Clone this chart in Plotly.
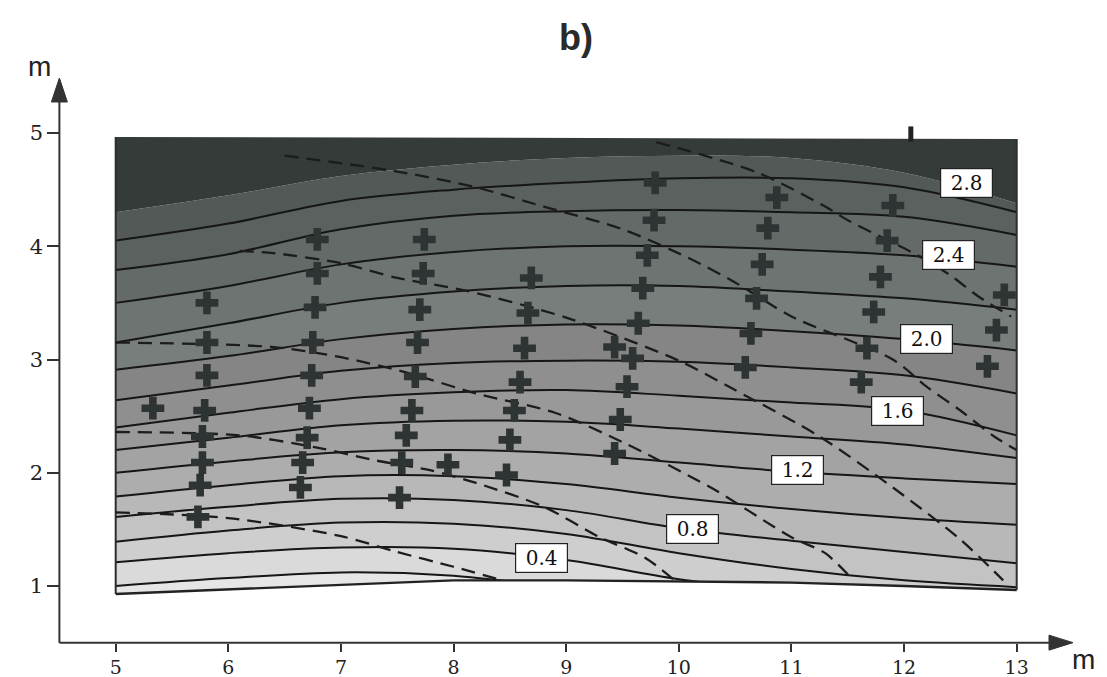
import plotly.graph_objects as go

# ---------------- data ----------------
x_stations = [5, 6, 7, 8, 9, 10, 11, 12, 13]
bottom_y = [0.93, 0.97, 1.01, 1.05, 1.05, 1.04, 1.03, 1.00, 0.965]
top_y = [4.965, 4.963, 4.96, 4.958, 4.955, 4.953, 4.95, 4.948, 4.947]

levels = [0.2, 0.4, 0.6, 0.8, 1.0, 1.2, 1.4, 1.6, 1.8, 2.0, 2.2, 2.4, 2.6, 2.8, 3.0]
# y position of each contour level at the x stations
level_y = [
    [1.00, 1.07, 1.12, 1.09, 0.98, 0.90, 0.85, 0.80, 0.75],   # 0.2
    [1.21, 1.29, 1.34, 1.33, 1.23, 1.06, 0.95, 0.85, 0.78],   # 0.4
    [1.39, 1.49, 1.56, 1.55, 1.46, 1.29, 1.15, 1.05, 0.99],   # 0.6
    [1.61, 1.70, 1.77, 1.76, 1.67, 1.51, 1.40, 1.30, 1.20],   # 0.8
    [1.79, 1.89, 1.97, 1.97, 1.90, 1.78, 1.68, 1.60, 1.54],   # 1.0
    [2.00, 2.10, 2.18, 2.20, 2.17, 2.09, 2.01, 1.95, 1.90],   # 1.2
    [2.20, 2.31, 2.42, 2.46, 2.45, 2.39, 2.32, 2.25, 2.13],   # 1.4
    [2.40, 2.53, 2.65, 2.71, 2.73, 2.68, 2.62, 2.55, 2.33],   # 1.6
    [2.64, 2.77, 2.90, 2.97, 2.99, 2.98, 2.93, 2.86, 2.70],   # 1.8
    [2.91, 3.03, 3.18, 3.27, 3.31, 3.30, 3.25, 3.18, 3.08],   # 2.0
    [3.15, 3.32, 3.50, 3.60, 3.65, 3.65, 3.60, 3.54, 3.44],   # 2.2
    [3.50, 3.65, 3.84, 3.95, 4.00, 4.00, 3.97, 3.92, 3.82],   # 2.4
    [3.79, 3.93, 4.15, 4.27, 4.31, 4.32, 4.30, 4.26, 4.10],   # 2.6
    [4.05, 4.20, 4.40, 4.50, 4.56, 4.60, 4.60, 4.52, 4.30],   # 2.8
    [4.30, 4.45, 4.62, 4.72, 4.78, 4.80, 4.78, 4.65, 4.38],   # 3.0
]

label_text = ["0.4", "0.8", "1.2", "1.6", "2.0", "2.4", "2.8"]
label_x = [8.78, 10.12, 11.05, 11.94, 12.20, 12.39, 12.55]
label_y = [1.25, 1.50, 2.02, 2.545, 3.185, 3.92, 4.56]

cross_x = [5.81, 5.81, 5.81, 5.79, 5.77, 5.77, 5.75, 5.73, 5.33,
           6.79, 6.79, 6.77, 6.75, 6.74, 6.72, 6.70, 6.66, 6.64,
           7.74, 7.73, 7.70, 7.68, 7.66, 7.63, 7.58, 7.54, 7.95, 7.52,
           8.69, 8.66, 8.63, 8.59, 8.54, 8.50, 8.47,
           9.79, 9.78, 9.72, 9.68, 9.64, 9.43, 9.59, 9.54, 9.48, 9.43,
           10.87, 10.79, 10.74, 10.69, 10.64, 10.59,
           11.90, 11.85, 11.79, 11.73, 11.67, 11.62,
           12.89, 12.82, 12.74]
cross_y = [3.50, 3.15, 2.86, 2.55, 2.32, 2.09, 1.89, 1.61, 2.57,
           4.06, 3.76, 3.46, 3.15, 2.86, 2.57, 2.31, 2.09, 1.87,
           4.06, 3.76, 3.44, 3.15, 2.85, 2.55, 2.33, 2.09, 2.07, 1.78,
           3.72, 3.41, 3.10, 2.80, 2.55, 2.29, 1.98,
           4.56, 4.23, 3.92, 3.63, 3.32, 3.11, 3.01, 2.76, 2.47, 2.17,
           4.43, 4.16, 3.84, 3.54, 3.23, 2.93,
           4.36, 4.05, 3.73, 3.42, 3.10, 2.80,
           3.57, 3.26, 2.94]

# small mark sticking out of the top edge
top_mark_x = [12.06]
top_mark_y = [4.99]

dash1_x = [5.0, 6.0, 7.0, 7.5, 8.0, 8.4]
dash1_y = [1.65, 1.60, 1.44, 1.30, 1.17, 1.06]
dash2_x = [5.0, 6.1, 6.8, 7.3, 7.8, 8.2, 8.8, 9.3, 9.7, 9.95]
dash2_y = [2.36, 2.33, 2.22, 2.11, 2.02, 1.91, 1.70, 1.43, 1.25, 1.06]
dash3_x = [5.0, 6.4, 7.0, 7.6, 8.2, 8.9, 9.5, 10.3, 11.0, 11.3, 11.55]
dash3_y = [3.15, 3.11, 3.02, 2.88, 2.70, 2.53, 2.27, 1.86, 1.43, 1.29, 1.05]
dash4_x = [6.1, 6.4, 7.0, 7.5, 8.1, 9.0, 10.0, 10.5, 11.25, 11.9, 12.5, 12.88]
dash4_y = [3.96, 3.94, 3.85, 3.72, 3.61, 3.37, 2.99, 2.73, 2.32, 1.87, 1.41, 1.05]
dash5_x = [6.5, 7.5, 8.2, 8.8, 9.5, 10.1, 10.5, 11.0, 11.9, 12.2, 12.5, 12.8, 13.0]
dash5_y = [4.80, 4.66, 4.52, 4.35, 4.15, 3.89, 3.68, 3.38, 3.00, 2.76, 2.55, 2.32, 2.20]
dash6_x = [9.8, 10.7, 11.3, 11.5, 12.1, 12.4, 12.67, 12.95]
dash6_y = [4.92, 4.65, 4.35, 4.23, 3.93, 3.75, 3.55, 3.38]

x_ticks = [5, 6, 7, 8, 9, 10, 11, 12, 13]
y_ticks = [1, 2, 3, 4, 5]

# ---------------- styling / geometry ----------------
W, H = 1107, 677
OFF = 8          # page offset of the plot div (body margin)
PX_X = 112.625   # px per x unit
PX_Y = 113.25    # px per y unit
X5_PX = 115.7    # page px of x = 5
Y1_PX = 586.0    # page px of y = 1
x0 = 5 - (X5_PX - OFF) / PX_X
x1 = x0 + W / PX_X
y0 = 1 - (H + OFF - Y1_PX) / PX_Y
y1 = y0 + H / PX_Y


def dx(px):
    return 5 + (px - X5_PX) / PX_X


def dy(py):
    return 1 + (Y1_PX - py) / PX_Y


def px_paper(px, py):
    return (px - OFF) / W, 1 - (py - OFF) / H


band_gray = [230, 218, 206, 195, 184, 173, 163, 153, 143, 133, 122, 112, 102, 93, 85, 55]
band_colors = [f"rgb({g-3},{g+4},{g+2})" if g < 130 else f"rgb({g},{g},{g})" for g in band_gray]

AX = "#333333"

fig = go.Figure()

fig.add_trace(go.Scatter(x=x_stations, y=bottom_y, mode="lines",
                         line=dict(width=0, color="black"), hoverinfo="skip", showlegend=False))
for i, lv in enumerate(levels):
    fig.add_trace(go.Scatter(
        x=x_stations, y=level_y[i], mode="lines",
        line=dict(color="#161616", width=(2.0 if lv < 2.95 else 0), shape="spline", smoothing=1.0),
        fill="tonexty", fillcolor=band_colors[i], hoverinfo="skip", showlegend=False))
fig.add_trace(go.Scatter(x=x_stations, y=top_y, mode="lines",
                         line=dict(width=0), fill="tonexty", fillcolor=band_colors[-1],
                         hoverinfo="skip", showlegend=False))

# white mask below the measured area
mask_x = [x_stations[0] - 0.05] + x_stations + [x_stations[-1] + 0.05, x_stations[-1] + 0.05,
                                                x_stations[0] - 0.05]
mask_y = [bottom_y[0]] + bottom_y + [bottom_y[-1], 0.56, 0.56]
fig.add_trace(go.Scatter(x=mask_x, y=mask_y, mode="lines",
                         fill="toself", fillcolor="white", line=dict(width=0),
                         hoverinfo="skip", showlegend=False))
fig.add_trace(go.Scatter(x=x_stations, y=bottom_y, mode="lines",
                         line=dict(color="#222", width=2.4), hoverinfo="skip", showlegend=False))
fig.add_trace(go.Scatter(x=[5, 5], y=[bottom_y[0], top_y[0]], mode="lines",
                         line=dict(color="#2a2f2e", width=2), hoverinfo="skip", showlegend=False))
fig.add_trace(go.Scatter(x=[13, 13], y=[bottom_y[-1], top_y[-1]], mode="lines",
                         line=dict(color="#2a2f2e", width=2), hoverinfo="skip", showlegend=False))

for ddx, ddy in [(dash1_x, dash1_y), (dash2_x, dash2_y), (dash3_x, dash3_y),
                 (dash4_x, dash4_y), (dash5_x, dash5_y), (dash6_x, dash6_y)]:
    fig.add_trace(go.Scatter(x=ddx, y=ddy, mode="lines",
                             line=dict(color="#1c1c1c", width=2.3, dash="14px,8px",
                                       shape="spline", smoothing=0.8),
                             hoverinfo="skip", showlegend=False))

fig.add_trace(go.Scatter(x=cross_x, y=cross_y, mode="markers",
                         marker=dict(symbol="cross", size=19, color="#2e3433", line=dict(width=0)),
                         hoverinfo="skip", showlegend=False))
fig.add_trace(go.Scatter(x=top_mark_x, y=top_mark_y, mode="markers",
                         marker=dict(symbol="line-ns", size=11, color="#222",
                                     line=dict(width=5, color="#222")),
                         hoverinfo="skip", showlegend=False))

for t, lx, ly in zip(label_text, label_x, label_y):
    fig.add_annotation(x=lx, y=ly, xref="x", yref="y", text=t, showarrow=False,
                       font=dict(family="DejaVu Serif", size=20, color="#111"),
                       bgcolor="white", bordercolor="#222", borderwidth=1.2, borderpad=3,
                       width=45, height=22, align="center", valign="middle")

shapes = [
    dict(type="line", xref="x", yref="y", x0=4.5, y0=0.5, x1=4.5, y1=5.3,
         line=dict(color=AX, width=2)),
    dict(type="line", xref="x", yref="y", x0=4.5, y0=0.5, x1=13.3, y1=0.5,
         line=dict(color=AX, width=2)),
]
tip_y, base_y, hw = dy(78), dy(102), 8 / PX_X
shapes.append(dict(type="path", xref="x", yref="y",
                   path=f"M {4.5-hw} {base_y} L 4.5 {tip_y} L {4.5+hw} {base_y} Z",
                   fillcolor=AX, line=dict(color=AX, width=1)))
tip_x, base_x, hh = dx(1073), dx(1049), 7.5 / PX_Y
shapes.append(dict(type="path", xref="x", yref="y",
                   path=f"M {base_x} {0.5-hh} L {tip_x} 0.5 L {base_x} {0.5+hh} Z",
                   fillcolor=AX, line=dict(color=AX, width=1)))

ax_, ay_ = px_paper(39, 66)
fig.add_annotation(x=ax_, y=ay_, xref="paper", yref="paper", text="m", showarrow=False,
                   font=dict(family="Liberation Sans", size=28, color="#222"),
                   xanchor="center", yanchor="middle")
ax_, ay_ = px_paper(1083, 659)
fig.add_annotation(x=ax_, y=ay_, xref="paper", yref="paper", text="m", showarrow=False,
                   font=dict(family="Liberation Sans", size=28, color="#222"),
                   xanchor="center", yanchor="middle")
ax_, ay_ = px_paper(576, 38)
fig.add_annotation(x=ax_, y=ay_, xref="paper", yref="paper", text="<b>b)</b>",
                   showarrow=False, font=dict(family="Liberation Sans", size=36, color="#2a2a2a"),
                   xanchor="center", yanchor="middle")

fig.update_layout(
    width=W, height=H, autosize=False,
    margin=dict(l=0, r=0, t=0, b=0, pad=0),
    paper_bgcolor="white", plot_bgcolor="white",
    shapes=shapes, showlegend=False,
    xaxis=dict(range=[x0, x1], showgrid=False, zeroline=False, showline=False,
               anchor="free", position=(0.5 - y0) / (y1 - y0),
               tickmode="array", tickvals=x_ticks, ticktext=[str(v) for v in x_ticks],
               ticks="outside", ticklen=8, tickwidth=2, tickcolor=AX,
               tickfont=dict(family="DejaVu Serif", size=19, color="#222"),
               automargin=False, fixedrange=True),
    yaxis=dict(range=[y0, y1], showgrid=False, zeroline=False, showline=False,
               anchor="free", position=(4.5 - x0) / (x1 - x0),
               tickmode="array", tickvals=y_ticks, ticktext=[str(v) for v in y_ticks],
               ticks="outside", ticklen=12, tickwidth=2, tickcolor=AX,
               tickfont=dict(family="DejaVu Serif", size=21, color="#222"),
               automargin=False, fixedrange=True),
)

fig.write_html("out.html")
